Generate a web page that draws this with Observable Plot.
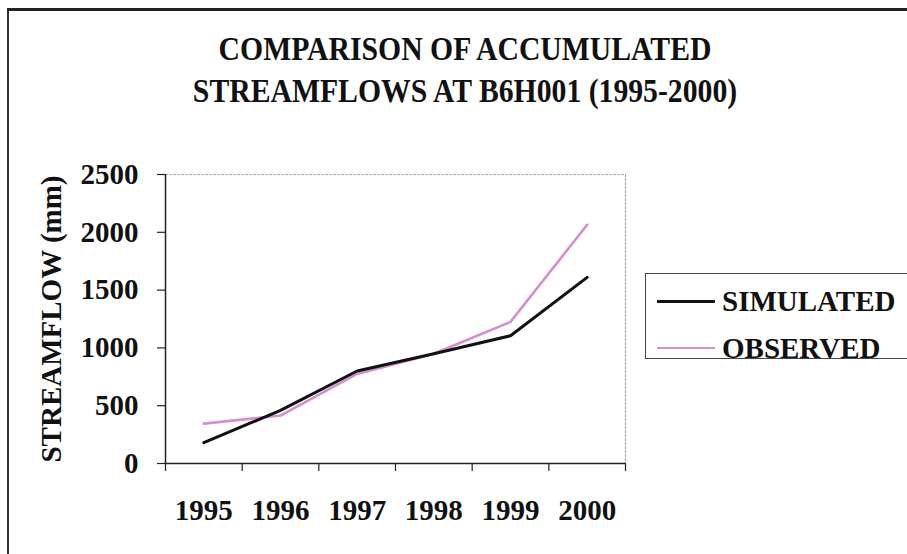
<!DOCTYPE html>
<html>
<head>
<meta charset="utf-8">
<script src="https://cdn.jsdelivr.net/npm/d3@7"></script>
<script src="https://cdn.jsdelivr.net/npm/@observablehq/plot@0.6"></script>
<style>
  html, body { margin: 0; padding: 0; background: #fff; }
  #wrap { position: relative; width: 907px; height: 554px; overflow: hidden; background: #fff;
          font-family: "Liberation Serif", "Times New Roman", serif; font-weight: bold; color: #111; }
  #borderL { position: absolute; left: 7px; top: 9px; width: 2px; height: 560px; background: #333; }
  #borderT { position: absolute; left: 7px; top: 8px; width: 910px; height: 3px; background: #222; }
  #title { position: absolute; left: 0; top: 28px; width: 930px; text-align: center;
           font-size: 33px; line-height: 42px; transform: scaleX(0.9); transform-origin: 465px 0; }
  #chart { position: absolute; left: 0; top: 150px; }
  #legend { position: absolute; left: 645px; top: 273px; width: 280px; height: 84px;
            border: 1.5px solid #444; font-size: 29px; }
  .entry { position: absolute; left: 11px; height: 30px; display: flex; align-items: center; }
  .swatch { width: 58px; height: 0; margin-right: 7px; }
</style>
</head>
<body>
<div id="wrap">
  <div id="borderL"></div>
  <div id="borderT"></div>
  <div id="title">COMPARISON OF ACCUMULATED<br>STREAMFLOWS AT B6H001 (1995-2000)</div>
  <div id="chart"></div>
  <div id="legend"></div>
</div>
<script>
const years = [1995, 1996, 1997, 1998, 1999, 2000];
const simulated = [180, 460, 800, 950, 1105, 1610];
const observed = [345, 415, 775, 950, 1225, 2065];
const yTicks = [0, 500, 1000, 1500, 2000, 2500];
const seriesNames = ["SIMULATED", "OBSERVED"];
const seriesColors = ["#111111", "#d48fcf"];
const yLabel = "STREAMFLOW (mm)";

const simData = years.map((y, i) => ({year: y, value: simulated[i]}));
const obsData = years.map((y, i) => ({year: y, value: observed[i]}));
const bounds = [...years.map(y => y - 0.5), years[years.length - 1] + 0.5];

const plot = Plot.plot({
  width: 907,
  height: 380,
  marginTop: 24,
  marginBottom: 67,
  marginLeft: 165,
  marginRight: 282,
  style: {fontFamily: '"Liberation Serif", "Times New Roman", serif', fontWeight: "bold", fontSize: "29px", color: "#111", background: "transparent", overflow: "visible"},
  x: {type: "linear", domain: [bounds[0], bounds[bounds.length - 1]]},
  y: {domain: [0, 2500]},
  marks: [
    Plot.ruleY([2500], {stroke: "#aaa", strokeWidth: 1.2, strokeDasharray: "3,1"}),
    Plot.ruleX([bounds[bounds.length - 1]], {stroke: "#aaa", strokeWidth: 1.2, strokeDasharray: "3,1"}),
    Plot.axisY({ticks: yTicks, tickSize: 8, tickPadding: 19, tickFormat: d => String(d), label: null, stroke: "#222", strokeWidth: 1.2}),
    Plot.axisX({ticks: bounds, tickSize: 8, tickFormat: () => "", label: null, stroke: "#222", strokeWidth: 1.2}),
    Plot.axisX({ticks: years, tickSize: 0, tickPadding: 36, tickFormat: d => String(d), label: null}),
    Plot.ruleX([bounds[0]], {stroke: "#222", strokeWidth: 1.5}),
    Plot.ruleY([0], {stroke: "#222", strokeWidth: 1.5}),
    Plot.text([yLabel], {frameAnchor: "left", textAnchor: "middle", lineAnchor: "middle", rotate: -90, dx: -114, text: d => d, fontSize: 29}),
    Plot.line(obsData, {x: "year", y: "value", stroke: seriesColors[1], strokeWidth: 2.6}),
    Plot.line(simData, {x: "year", y: "value", stroke: seriesColors[0], strokeWidth: 3})
  ]
});
document.getElementById("chart").appendChild(plot);

const legend = document.getElementById("legend");
const tops = [12, 59];
seriesNames.forEach((name, i) => {
  const e = document.createElement("div");
  e.className = "entry";
  e.style.top = tops[i] + "px";
  const sw = document.createElement("div");
  sw.className = "swatch";
  sw.style.borderTop = (i === 0 ? 3 : 2.5) + "px solid " + seriesColors[i];
  const t = document.createElement("span");
  t.textContent = name;
  e.appendChild(sw);
  e.appendChild(t);
  legend.appendChild(e);
});
</script>
</body>
</html>
